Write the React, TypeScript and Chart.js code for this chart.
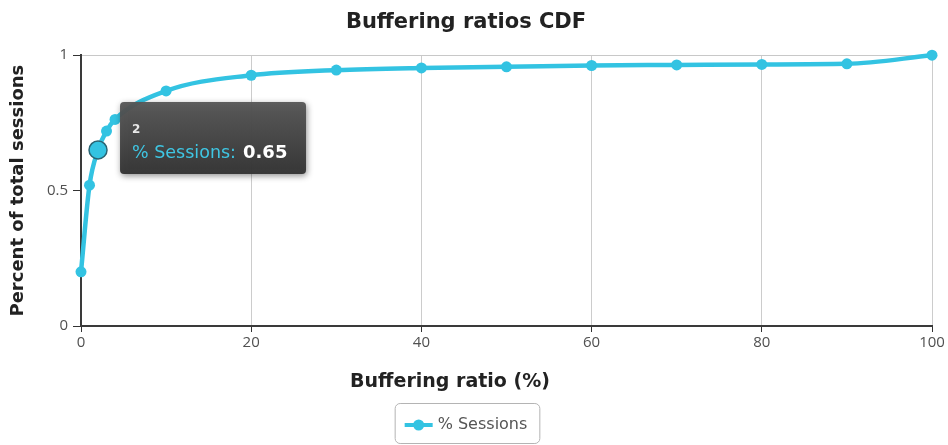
import { useEffect, useRef } from 'react';
import { Chart, registerables } from 'chart.js';

Chart.register(...registerables);

const chartTitle = 'Buffering ratios CDF';
const xAxisTitle = 'Buffering ratio (%)';
const yAxisTitle = 'Percent of total sessions';
const seriesName = '% Sessions';
const bufferingRatio = [0, 1, 2, 3, 4, 10, 20, 30, 40, 50, 60, 70, 80, 90, 100];
const sessionShare = [0.2, 0.52, 0.65, 0.72, 0.763, 0.868, 0.926, 0.945, 0.953, 0.957, 0.962, 0.964, 0.966, 0.968, 1.0];
const xTickStep = 20;
const yTickStep = 0.5;
const highlightedIndex = 2;

const lineColor = '#33c3e2';

export default function App() {
  const ref = useRef<HTMLCanvasElement>(null);

  useEffect(() => {
    document.body.style.margin = '0';
    const canvas = ref.current!;

    const overlay = {
      id: 'overlay',
      afterDraw(chart: any) {
        const ctx: CanvasRenderingContext2D = chart.ctx;
        const area = chart.chartArea;
        ctx.save();

        // x axis title
        ctx.font = 'bold 19px "DejaVu Sans"';
        ctx.fillStyle = '#222';
        ctx.textAlign = 'center';
        ctx.textBaseline = 'middle';
        ctx.fillText(xAxisTitle, chart.width / 2 - 24, area.bottom + 56);

        // legend
        ctx.font = '16px "DejaVu Sans"';
        const tw = ctx.measureText(seriesName).width;
        const symW = 28, gap = 5, padL = 10, padR = 12;
        const boxW = padL + symW + gap + tw + padR;
        const cx = chart.width / 2 - 7;
        const bx = cx - boxW / 2;
        const by = area.bottom + 77;
        const bh = 40;
        ctx.beginPath();
        ctx.roundRect(bx + 0.5, by + 0.5, boxW, bh, 5);
        ctx.strokeStyle = '#b4b4b4';
        ctx.lineWidth = 1;
        ctx.stroke();
        const ly = by + 22;
        ctx.beginPath();
        ctx.moveTo(bx + padL, ly);
        ctx.lineTo(bx + padL + symW, ly);
        ctx.strokeStyle = lineColor;
        ctx.lineWidth = 4;
        ctx.stroke();
        ctx.beginPath();
        ctx.arc(bx + padL + symW / 2, ly, 5.5, 0, Math.PI * 2);
        ctx.fillStyle = lineColor;
        ctx.fill();
        ctx.fillStyle = '#555';
        ctx.textAlign = 'left';
        ctx.fillText(seriesName, bx + padL + symW + gap, ly);

        // tooltip
        const pt = chart.getDatasetMeta(0).data[highlightedIndex];
        const tx = pt.x + 22;
        const ty = pt.y - 48;
        const tW = 186, tH = 72;
        ctx.save();
        ctx.shadowColor = 'rgba(0,0,0,0.45)';
        ctx.shadowBlur = 6;
        ctx.shadowOffsetX = 1;
        ctx.shadowOffsetY = 2;
        const grad = ctx.createLinearGradient(0, ty, 0, ty + tH);
        grad.addColorStop(0, 'rgba(86,86,86,0.95)');
        grad.addColorStop(1, 'rgba(50,50,50,0.95)');
        ctx.beginPath();
        ctx.roundRect(tx, ty, tW, tH, 4);
        ctx.fillStyle = grad;
        ctx.fill();
        ctx.restore();
        ctx.textBaseline = 'middle';
        ctx.textAlign = 'left';
        ctx.font = 'bold 12px "DejaVu Sans"';
        ctx.fillStyle = '#e8e8e8';
        ctx.fillText(String(bufferingRatio[highlightedIndex]), tx + 12, ty + 28);
        ctx.font = '17.5px "DejaVu Sans"';
        ctx.fillStyle = '#3fc6e3';
        const lbl = seriesName + ':';
        ctx.fillText(lbl, tx + 12, ty + 51);
        const lw = ctx.measureText(lbl).width;
        ctx.font = 'bold 18px "DejaVu Sans"';
        ctx.fillStyle = '#ffffff';
        ctx.fillText(sessionShare[highlightedIndex].toFixed(2), tx + 12 + lw + 7, ty + 51);

        ctx.restore();
      },
    };

    const chart = new Chart(canvas, {
      type: 'line',
      data: {
        datasets: [
          {
            label: seriesName,
            data: bufferingRatio.map((x, i) => ({ x, y: sessionShare[i] })),
            borderColor: lineColor,
            backgroundColor: lineColor,
            borderWidth: 4.5,
            cubicInterpolationMode: 'monotone',
            pointRadius: (c: any) => (c.dataIndex === highlightedIndex ? 9 : 5.5),
            pointBackgroundColor: lineColor,
            pointBorderColor: (c: any) => (c.dataIndex === highlightedIndex ? '#2a6473' : lineColor),
            pointBorderWidth: (c: any) => (c.dataIndex === highlightedIndex ? 1.5 : 0),
            clip: 12,
          } as any,
        ],
      },
      options: {
        responsive: false,
        animation: false,
        events: [],
        layout: { padding: { top: 0, left: 0, right: 16, bottom: 49 } },
        plugins: {
          legend: { display: false },
          tooltip: { enabled: false },
          title: {
            display: true,
            text: chartTitle,
            color: '#222',
            font: { family: '"DejaVu Sans"', size: 21, weight: 'bold' },
            padding: { top: 10, bottom: 20 },
          },
        },
        scales: {
          x: {
            type: 'linear',
            min: 0,
            max: 100,
            ticks: {
              stepSize: xTickStep,
              color: '#505050',
              font: { family: '"Open Sans"', size: 15 },
              padding: 2,
            },
            grid: { color: '#cccccc', tickColor: '#333', tickLength: 6, lineWidth: 1 },
            border: { color: '#3a3a3a', width: 2 },
            afterFit: (s: any) => {
              s.height = 70;
            },
          },
          y: {
            type: 'linear',
            min: 0,
            max: 1,
            ticks: {
              stepSize: yTickStep,
              color: '#505050',
              font: { family: '"Open Sans"', size: 15 },
              padding: 5,
              callback: (v: any) => String(v),
            },
            grid: {
              color: (c: any) => (c.tick && c.tick.value === 1 ? '#c8c8c8' : 'rgba(0,0,0,0)'),
              tickColor: '#333',
              tickLength: 8,
            },
            border: { color: '#3a3a3a', width: 2 },
            title: {
              display: true,
              text: yAxisTitle,
              color: '#222',
              font: { family: '"DejaVu Sans"', size: 18, weight: 'bold' },
              padding: { top: 8, bottom: 0 },
            },
            afterFit: (s: any) => {
              s.width = 81;
            },
          },
        },
      },
      plugins: [overlay],
    } as any);

    return () => chart.destroy();
  }, []);

  return (
    <div style={{ width: 948, height: 445 }}>
      <canvas ref={ref} width={948} height={445} style={{ display: 'block' }} />
    </div>
  );
}
